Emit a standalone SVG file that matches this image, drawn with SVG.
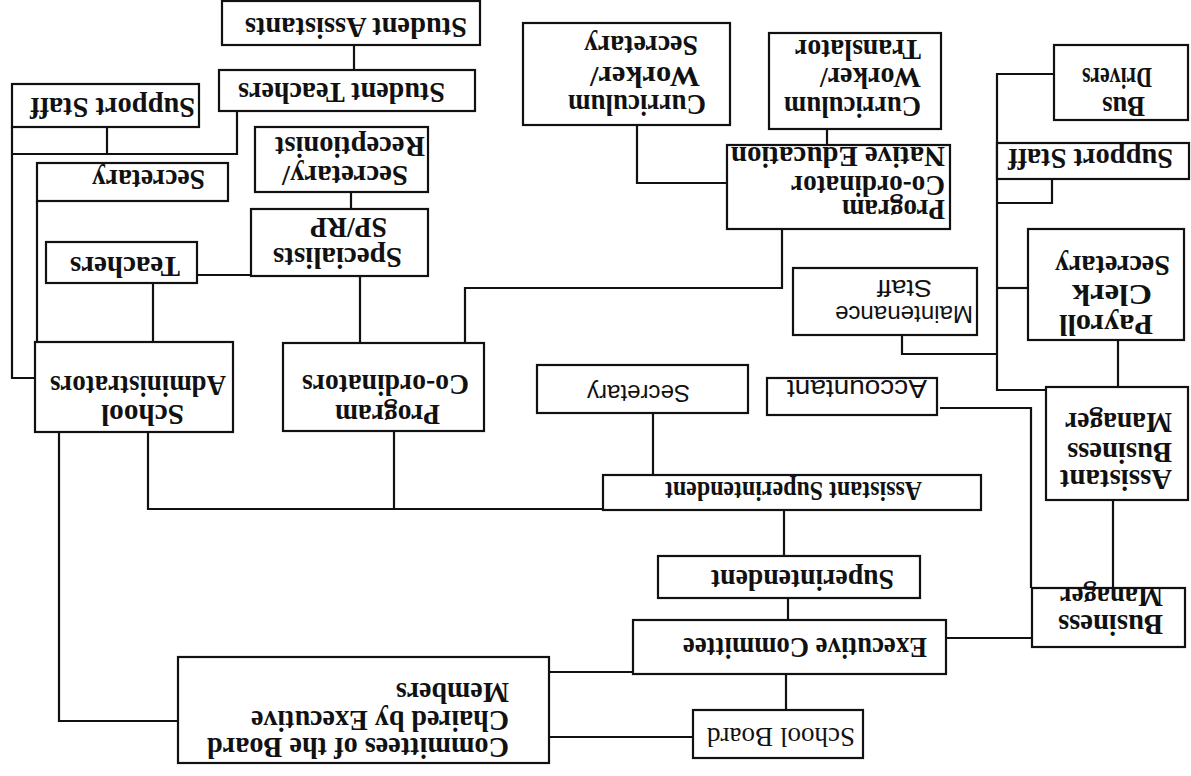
<svg xmlns="http://www.w3.org/2000/svg" width="1191" height="776" viewBox="0 0 1191 776">
<style>
.box{fill:#fff;stroke:#111;stroke-width:2.2}
.conn{fill:none;stroke:#111;stroke-width:2.2}
.b{font-family:"Liberation Serif","Times New Roman",serif;font-weight:bold;font-size:29px;fill:#111}
.r{font-family:"Liberation Serif","Times New Roman",serif;font-size:28px;fill:#111}
.s{font-family:"Liberation Sans",Arial,sans-serif;font-size:24px;fill:#111}
</style>
<rect x="0" y="0" width="1191" height="776" fill="#fff"/>
<g id="connectors">
<path class="conn" d="M354,45 V70"/>
<path class="conn" d="M237,111 V154 H12"/>
<path class="conn" d="M107,127 V154"/>
<path class="conn" d="M12,127 V378 H35"/>
<path class="conn" d="M37,201 V342"/>
<path class="conn" d="M153,283 V342"/>
<path class="conn" d="M197,275 H251"/>
<path class="conn" d="M351,192 V209"/>
<path class="conn" d="M360,276 V343"/>
<path class="conn" d="M465,343 V288 H782 V229"/>
<path class="conn" d="M637,125 V183 H727"/>
<path class="conn" d="M827,129 V145"/>
<path class="conn" d="M148,432 V509 H603"/>
<path class="conn" d="M394,431 V509"/>
<path class="conn" d="M653,413 V475"/>
<path class="conn" d="M784,510 V556"/>
<path class="conn" d="M788,598 V620"/>
<path class="conn" d="M786,674 V710"/>
<path class="conn" d="M633,672 H549"/>
<path class="conn" d="M693,737 H549"/>
<path class="conn" d="M59,432 V721 H178"/>
<path class="conn" d="M946,638 H1032"/>
<path class="conn" d="M940,408 H1031 V588"/>
<path class="conn" d="M1113,500 V588"/>
<path class="conn" d="M1118,340 V387"/>
<path class="conn" d="M1054,74 H997 V390 H1046"/>
<path class="conn" d="M1052,179 V203 H997"/>
<path class="conn" d="M997,288 H1028"/>
<path class="conn" d="M902,335 V354 H997"/>
</g>
<g id="student-assistants"><rect class="box" x="222" y="1" width="258" height="44"/>
<text class="b" transform="translate(467,18) rotate(180)" textLength="222" lengthAdjust="spacingAndGlyphs">Student Assistants</text></g>
<g id="student-teachers"><rect class="box" x="219" y="70" width="256" height="41"/>
<text class="b" transform="translate(445,83) rotate(180)" textLength="207" lengthAdjust="spacingAndGlyphs">Student Teachers</text></g>
<g id="support-staff-left"><rect class="box" x="12" y="84" width="187" height="43"/>
<text class="b" transform="translate(195,98) rotate(180)" textLength="165" lengthAdjust="spacingAndGlyphs">Support Staff</text></g>
<g id="secretary-left"><rect class="box" x="37" y="163" width="191" height="38"/>
<text class="b" transform="translate(205,170) rotate(180)" textLength="113" lengthAdjust="spacingAndGlyphs">Secretary</text></g>
<g id="secretary-receptionist"><rect class="box" x="255" y="127" width="173" height="65"/>
<text class="b" transform="translate(408,166) rotate(180)" textLength="126" lengthAdjust="spacingAndGlyphs">Secretary/</text>
<text class="b" transform="translate(425,137) rotate(180)" textLength="150" lengthAdjust="spacingAndGlyphs">Receptionist</text></g>
<g id="specialists"><rect class="box" x="251" y="209" width="177" height="67"/>
<text class="b" transform="translate(402,248) rotate(180)" textLength="129" lengthAdjust="spacingAndGlyphs">Specialists</text>
<text class="b" transform="translate(387,218) rotate(180)" textLength="77" lengthAdjust="spacingAndGlyphs">SP/RP</text></g>
<g id="teachers"><rect class="box" x="46" y="242" width="151" height="41"/>
<text class="b" transform="translate(180,257) rotate(180)" textLength="110" lengthAdjust="spacingAndGlyphs">Teachers</text></g>
<g id="school-administrators"><rect class="box" x="35" y="342" width="198" height="90"/>
<text class="b" transform="translate(184,405) rotate(180)" textLength="83" lengthAdjust="spacingAndGlyphs">School</text>
<text class="b" transform="translate(226,376) rotate(180)" textLength="176" lengthAdjust="spacingAndGlyphs">Administrators</text></g>
<g id="program-coordinators"><rect class="box" x="283" y="343" width="201" height="88"/>
<text class="b" transform="translate(440,405) rotate(180)" textLength="105" lengthAdjust="spacingAndGlyphs">Program</text>
<text class="b" transform="translate(469,375) rotate(180)" textLength="167" lengthAdjust="spacingAndGlyphs">Co-ordinators</text></g>
<g id="curriculum-worker-secretary"><rect class="box" x="523" y="23" width="207" height="102"/>
<text class="b" transform="translate(706,95) rotate(180)" textLength="138" lengthAdjust="spacingAndGlyphs">Curriculum</text>
<text class="b" transform="translate(700,67) rotate(180)" textLength="110" lengthAdjust="spacingAndGlyphs">Worker/</text>
<text class="b" transform="translate(698,36) rotate(180)" textLength="114" lengthAdjust="spacingAndGlyphs">Secretary</text></g>
<g id="curriculum-worker-translator"><rect class="box" x="769" y="33" width="172" height="96"/>
<text class="b" transform="translate(921,97) rotate(180)" textLength="137" lengthAdjust="spacingAndGlyphs">Curriculum</text>
<text class="b" transform="translate(921,68) rotate(180)" textLength="101" lengthAdjust="spacingAndGlyphs">Worker/</text>
<text class="b" transform="translate(921,40) rotate(180)" textLength="126" lengthAdjust="spacingAndGlyphs">Translator</text></g>
<g id="program-coordinator-native-education"><rect class="box" x="727" y="145" width="223" height="84"/>
<text class="b" transform="translate(945,200) rotate(180)" textLength="103" lengthAdjust="spacingAndGlyphs">Program</text>
<text class="b" transform="translate(945,176) rotate(180)" textLength="154" lengthAdjust="spacingAndGlyphs">Co-ordinator</text>
<text class="b" transform="translate(945,147) rotate(180)" textLength="214" lengthAdjust="spacingAndGlyphs">Native Education</text></g>
<g id="maintenance-staff"><rect class="box" x="793" y="268" width="184" height="67"/>
<text class="s" transform="translate(973,306) rotate(180)" textLength="138" lengthAdjust="spacingAndGlyphs">Maintenance</text>
<text class="s" transform="translate(932,280) rotate(180)" textLength="55" lengthAdjust="spacingAndGlyphs">Staff</text></g>
<g id="bus-drivers"><rect class="box" x="1054" y="45" width="134" height="75"/>
<text class="b" transform="translate(1145,97) rotate(180)" textLength="43" lengthAdjust="spacingAndGlyphs">Bus</text>
<text class="b" transform="translate(1152,68) rotate(180)" textLength="70" lengthAdjust="spacingAndGlyphs">Drivers</text></g>
<g id="support-staff-right"><rect class="box" x="997" y="143" width="192" height="36"/>
<text class="b" transform="translate(1173,149) rotate(180)" textLength="165" lengthAdjust="spacingAndGlyphs">Support Staff</text></g>
<g id="payroll-clerk-secretary"><rect class="box" x="1028" y="229" width="156" height="111"/>
<text class="b" transform="translate(1153,315) rotate(180)" textLength="94" lengthAdjust="spacingAndGlyphs">Payroll</text>
<text class="b" transform="translate(1152,285) rotate(180)" textLength="80" lengthAdjust="spacingAndGlyphs">Clerk</text>
<text class="b" transform="translate(1170,256) rotate(180)" textLength="115" lengthAdjust="spacingAndGlyphs">Secretary</text></g>
<g id="secretary-middle"><rect class="box" x="537" y="365" width="211" height="48"/>
<text class="s" transform="translate(690,385) rotate(180)" textLength="103" lengthAdjust="spacingAndGlyphs" style="font-size:23px">Secretary</text></g>
<g id="accountant"><rect class="box" x="767" y="378" width="170" height="37"/>
<text class="s" transform="translate(927,380) rotate(180)" textLength="140" lengthAdjust="spacingAndGlyphs" style="font-size:25px">Accountant</text></g>
<g id="assistant-superintendent"><rect class="box" x="603" y="475" width="378" height="35"/>
<text class="b" transform="translate(922,482) rotate(180)" textLength="257" lengthAdjust="spacingAndGlyphs" style="font-size:27px">Assistant Superintendent</text></g>
<g id="assistant-business-manager"><rect class="box" x="1046" y="387" width="142" height="113"/>
<text class="b" transform="translate(1172,470) rotate(180)" textLength="112" lengthAdjust="spacingAndGlyphs">Assistant</text>
<text class="b" transform="translate(1172,443) rotate(180)" textLength="105" lengthAdjust="spacingAndGlyphs">Business</text>
<text class="b" transform="translate(1172,413) rotate(180)" textLength="107" lengthAdjust="spacingAndGlyphs">Manager</text></g>
<g id="superintendent"><rect class="box" x="658" y="556" width="262" height="42"/>
<text class="b" transform="translate(894,570) rotate(180)" textLength="183" lengthAdjust="spacingAndGlyphs">Superintendent</text></g>
<g id="executive-committee"><rect class="box" x="633" y="620" width="313" height="54"/>
<text class="b" transform="translate(927,638) rotate(180)" textLength="244" lengthAdjust="spacingAndGlyphs">Executive Committee</text></g>
<g id="business-manager"><rect class="box" x="1032" y="588" width="153" height="59"/>
<text class="b" transform="translate(1163,615) rotate(180)" textLength="105" lengthAdjust="spacingAndGlyphs">Business</text>
<text class="b" transform="translate(1163,587) rotate(180)" textLength="103" lengthAdjust="spacingAndGlyphs">Manager</text></g>
<g id="school-board"><rect class="box" x="693" y="710" width="170" height="48"/>
<text class="r" transform="translate(855,728) rotate(180)" textLength="148" lengthAdjust="spacingAndGlyphs">School Board</text></g>
<g id="committees-of-the-board"><rect class="box" x="178" y="657" width="371" height="106"/>
<text class="b" transform="translate(509,738) rotate(180)" textLength="302" lengthAdjust="spacingAndGlyphs">Committees of the Board</text>
<text class="b" transform="translate(509,711) rotate(180)" textLength="258" lengthAdjust="spacingAndGlyphs">Chaired by Executive</text>
<text class="b" transform="translate(509,683) rotate(180)" textLength="113" lengthAdjust="spacingAndGlyphs">Members</text></g>
</svg>
